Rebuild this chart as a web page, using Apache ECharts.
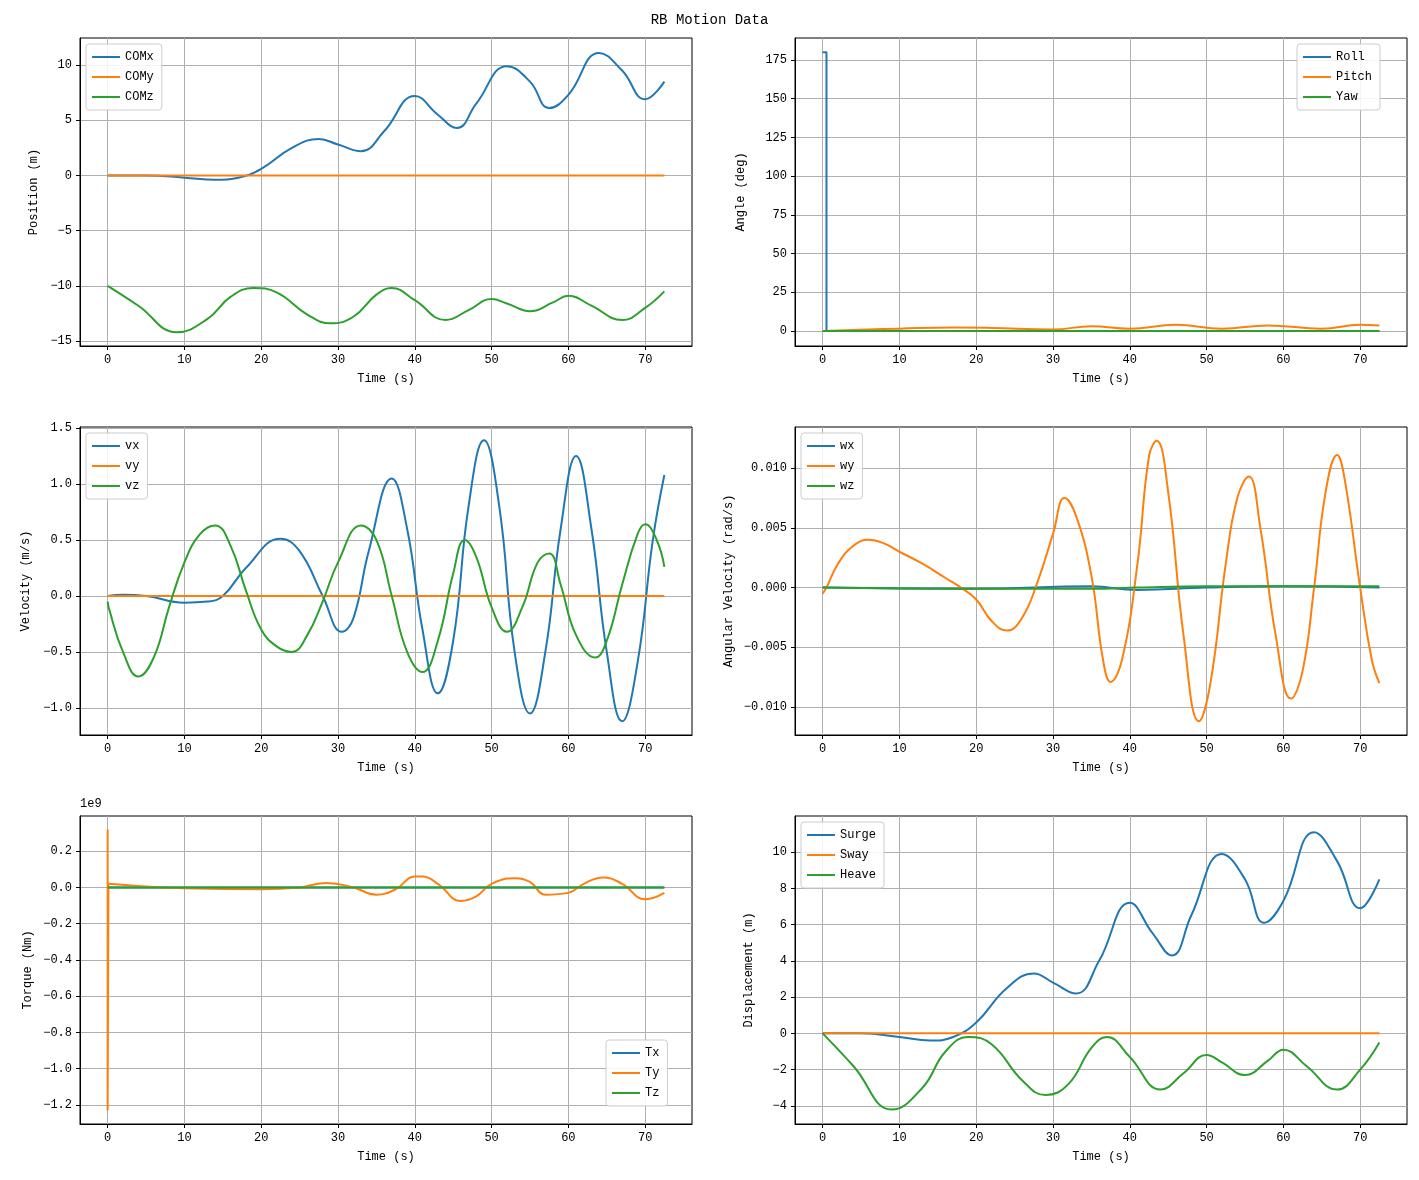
<!DOCTYPE html>
<html><head><meta charset="utf-8">
<script src="https://cdn.jsdelivr.net/npm/echarts@6/dist/echarts.min.js"></script>
<style>html,body{margin:0;background:#fff}#chart-container{width:1419px;height:1180px}</style>
</head><body><div id="chart-container"></div>
<script>
var dom = document.getElementById("chart-container");
var myChart = echarts.init(dom, null, { renderer: "canvas" });
var FONT = "Liberation Mono";
var C = ["#1f77b4", "#ff7f0e", "#2ca02c"];

// ---- data ----
const tComX = [0, 5, 10, 14, 17, 20, 24, 27.5, 30, 33, 36, 40, 43, 45.5, 48, 52, 55, 57.5, 60, 64, 67, 70, 72.5];
const comX = [0, 0, -0.2, -0.4, -0.2, 0.6, 2.5, 3.3, 2.8, 2.2, 4.0, 7.2, 5.5, 4.3, 6.5, 9.9, 8.5, 6.1, 7.3, 11.1, 9.5, 6.9, 8.5];
const tFlat = [0, 72.5];
const zeros = [0, 0];
const tComZ = [0, 4, 9, 13, 16, 19, 22, 26, 29, 32, 35, 37, 40, 44, 47, 50, 52, 55, 58, 60, 63, 67, 70, 72.5];
const comZ = [-10, -11.8, -14.2, -13, -11, -10.2, -10.6, -12.6, -13.4, -12.8, -10.8, -10.2, -11.3, -13.1, -12.2, -11.2, -11.6, -12.3, -11.5, -10.9, -11.8, -13.1, -12, -10.5];

const tRoll = [0, 0.5, 0.5, 72.5];
const roll = [180, 180, 0, 0];
const tPitch = [0, 10, 17, 22, 30, 35, 40, 46, 52, 58, 65, 70, 72.5];
const pitch = [0, 1.5, 2.3, 2, 1, 3, 1.5, 4, 1.5, 3.5, 1.5, 4, 3.5];

const tVx = [0, 2, 5, 10, 13, 15, 18, 22.5, 25, 28, 30.5, 32, 34, 37, 39, 41, 43, 45, 47, 49, 51, 53, 55, 57, 59, 61, 63, 65, 67, 69, 71, 72.5];
const vx = [0, 0.01, 0, -0.06, -0.05, 0, 0.25, 0.51, 0.4, 0, -0.32, -0.2, 0.4, 1.05, 0.6, -0.3, -0.87, -0.4, 0.8, 1.39, 0.8, -0.5, -1.05, -0.5, 0.6, 1.25, 0.6, -0.5, -1.12, -0.6, 0.5, 1.08];
const tVz = [0, 0.2, 2, 4, 6, 8, 10, 12, 14, 16, 18, 20, 22, 24, 26, 28, 30, 33, 35, 37, 39, 41, 43, 45, 46.5, 48, 50, 52, 54, 56, 57.5, 59, 61, 63.5, 65, 67, 69, 70, 71.5, 72.5];
const vz = [-0.05, -0.12, -0.5, -0.72, -0.55, -0.1, 0.3, 0.55, 0.63, 0.45, 0.05, -0.3, -0.45, -0.5, -0.35, -0.05, 0.3, 0.63, 0.5, 0, -0.5, -0.68, -0.4, 0.2, 0.5, 0.35, -0.1, -0.32, -0.1, 0.3, 0.38, 0.1, -0.35, -0.55, -0.4, 0.1, 0.55, 0.64, 0.5, 0.26];

const tWx = [0, 20, 35, 41, 50, 60, 72.5];
const wx = [0, -0.0001, 0.0001, -0.0002, 0, 0.0001, 0];
const wz = [0, -0.0001, -0.0001, 0, 0.0001, 0.0001, 0.0001];
const tWy = [0, 0.5, 2, 4, 6, 8, 10, 13, 16, 18, 20, 22, 24, 26, 28, 30, 31.5, 33, 35, 36.5, 37.5, 39, 41, 42.5, 43.5, 45, 47, 49, 50.5, 52.5, 54, 55.5, 57, 59, 61, 62.5, 64, 65.5, 67, 68, 70, 71.5, 72.5];
const wy = [-0.0005, 0, 0.002, 0.0035, 0.004, 0.0037, 0.003, 0.002, 0.0008, 0, -0.001, -0.0028, -0.0036, -0.0025, 0.0005, 0.0045, 0.0075, 0.006, 0.001, -0.006, -0.0079, -0.006, 0.002, 0.011, 0.0123, 0.008, -0.004, -0.0112, -0.008, 0.002, 0.0075, 0.0093, 0.005, -0.004, -0.0093, -0.007, 0, 0.008, 0.0111, 0.009, 0, -0.006, -0.008];

// torque Ty: initial spike, then slow wave
const tTySpike = [0, 0, 0, 0.1];
const tySpike = [0, 0.32, -1.23, 0.02];
const tTy = [0.1, 5, 10, 20, 25, 28.5, 32, 35, 37.5, 40, 41, 43, 46, 48, 50, 53, 55, 57, 60, 62, 64.5, 67, 70, 72.5];
const ty = [0.02, 0.005, -0.005, -0.01, 0, 0.025, 0, -0.04, -0.01, 0.06, 0.06, 0.02, -0.075, -0.05, 0.02, 0.05, 0.03, -0.04, -0.03, 0.02, 0.055, 0.02, -0.065, -0.03];

const tHeave = [0, 4, 9, 13, 16, 19, 22, 26, 29, 32, 35, 37, 40, 44, 47, 50, 52, 55, 58, 60, 63, 67, 70, 72.5];
const heave = [0, -1.8, -4.2, -3, -1, -0.2, -0.6, -2.6, -3.4, -2.8, -0.8, -0.2, -1.3, -3.1, -2.2, -1.2, -1.6, -2.3, -1.5, -0.9, -1.8, -3.1, -2, -0.5];

const xTicks = [0, 10, 20, 30, 40, 50, 60, 70];

// ---- layout ----
var lefts = [80, 795], tops = [38, 427, 816], W = 612, H = 308;
var grids = [], xAxes = [], yAxes = [], series = [], legends = [];

function pair(t, v) { return t.map(function (x, i) { return [x, v[i]]; }); }
function minus(s) { return String(s).replace("-", "\u2212"); }
function axisCommon(ticks) {
  return {
    axisLine: { show: true, onZero: false, lineStyle: { color: "#000" } },
    axisTick: { show: true, inside: false, length: 4, customValues: ticks, lineStyle: { color: "#000" } },
    axisLabel: { customValues: ticks, color: "#000", fontFamily: FONT, fontSize: 12,
      formatter: function (v) { return minus(v); } },
    splitLine: { show: true, lineStyle: { color: "#b0b0b0", width: 1 } },
    nameTextStyle: { color: "#000", fontFamily: FONT, fontSize: 12 }
  };
}
var panels = [
  { name: "Position (m)", min: -15.45, max: 12.45, ticks: [-15, -10, -5, 0, 5, 10], gap: 40,
    s: [["COMx", tComX, comX], ["COMy", tFlat, zeros], ["COMz", tComZ, comZ]], leg: "tl" },
  { name: "Angle (deg)", min: -9.7, max: 189.2, ticks: [0, 25, 50, 75, 100, 125, 150, 175], gap: 48,
    s: [["Roll", tRoll, roll], ["Pitch", tPitch, pitch], ["Yaw", tFlat, zeros]], leg: "tr" },
  { name: "Velocity (m/s)", min: -1.242, max: 1.509, ticks: [-1.0, -0.5, 0, 0.5, 1.0, 1.5], gap: 48,
    fmt: function (v) { return minus(v.toFixed(1)); },
    s: [["vx", tVx, vx], ["vy", tFlat, zeros], ["vz", tVz, vz]], leg: "tl" },
  { name: "Angular Velocity (rad/s)", min: -0.01235, max: 0.01345, ticks: [-0.01, -0.005, 0, 0.005, 0.01], gap: 60,
    fmt: function (v) { return minus(v.toFixed(3)); },
    s: [["wx", tWx, wx], ["wy", tWy, wy], ["wz", tWx, wz]], leg: "tl" },
  { name: "Torque (Nm)", min: -1.305, max: 0.394, ticks: [-1.2, -1.0, -0.8, -0.6, -0.4, -0.2, 0, 0.2], gap: 46,
    fmt: function (v) { return minus(v.toFixed(1)); },
    s: [["Tx", tFlat, zeros], ["Ty", tTy, ty], ["Tz", tFlat, zeros]], leg: "br" },
  { name: "Displacement (m)", min: -5.0, max: 11.99, ticks: [-4, -2, 0, 2, 4, 6, 8, 10], gap: 40,
    s: [["Surge", tComX, comX], ["Sway", tFlat, zeros], ["Heave", tHeave, heave]], leg: "tl" }
];

panels.forEach(function (p, i) {
  var L = lefts[i % 2], T = tops[Math.floor(i / 2)];
  grids.push({ left: L, top: T, width: W, height: H, show: true, borderColor: "#000", borderWidth: 1 });
  var xa = axisCommon(xTicks);
  Object.assign(xa, { type: "value", gridIndex: i, min: -3.6, max: 76.1, name: "Time (s)", nameLocation: "middle", nameGap: 27 });
  xAxes.push(xa);
  var ya = axisCommon(p.ticks);
  Object.assign(ya, { type: "value", gridIndex: i, min: p.min, max: p.max, name: p.name, nameLocation: "middle", nameGap: p.gap });
  if (p.fmt) ya.axisLabel.formatter = p.fmt;
  yAxes.push(ya);
  p.s.forEach(function (s, k) {
    series.push({ type: "line", name: s[0], xAxisIndex: i, yAxisIndex: i, data: pair(s[1], s[2]),
      showSymbol: false, smooth: s[0] === "Roll" ? false : 0.45, z: 2 + k,
      lineStyle: { color: C[k], width: 2 }, itemStyle: { color: C[k] } });
    if (s[0] === "Ty") {
      series.push({ type: "line", name: "Ty", xAxisIndex: i, yAxisIndex: i, data: pair(tTySpike, tySpike),
        showSymbol: false, smooth: false, lineStyle: { color: C[1], width: 2 }, itemStyle: { color: C[1] } });
    }
  });
  var lg = { data: p.s.map(function (s) { return s[0]; }), orient: "vertical", itemWidth: 28, itemHeight: 2, itemGap: 8,
    padding: [7, 8, 7, 6], borderColor: "#ccc", borderWidth: 1, borderRadius: 3, backgroundColor: "rgba(255,255,255,0.85)",
    textStyle: { fontFamily: FONT, fontSize: 12, color: "#000" }, icon: "rect" };
  if (p.leg === "tl") { lg.left = L + 6; lg.top = T + 6; }
  if (p.leg === "tr") { lg.left = L + W - 110; lg.top = T + 6; }
  if (p.leg === "br") { lg.left = L + W - 86; lg.top = T + H - 84; }
  legends.push(lg);
});

var option = {
  animation: false,
  backgroundColor: "#fff",
  title: { text: "RB Motion Data", left: "center", top: 8, textStyle: { fontFamily: FONT, fontSize: 14, fontWeight: "normal", color: "#000" } },
  graphic: [{ type: "text", left: 80, top: 798, style: { text: "1e9", font: "12px " + FONT, fill: "#000" } }],
  grid: grids, xAxis: xAxes, yAxis: yAxes, legend: legends, series: series
};
myChart.setOption(option);
window.addEventListener("resize", myChart.resize);
</script></body></html>
